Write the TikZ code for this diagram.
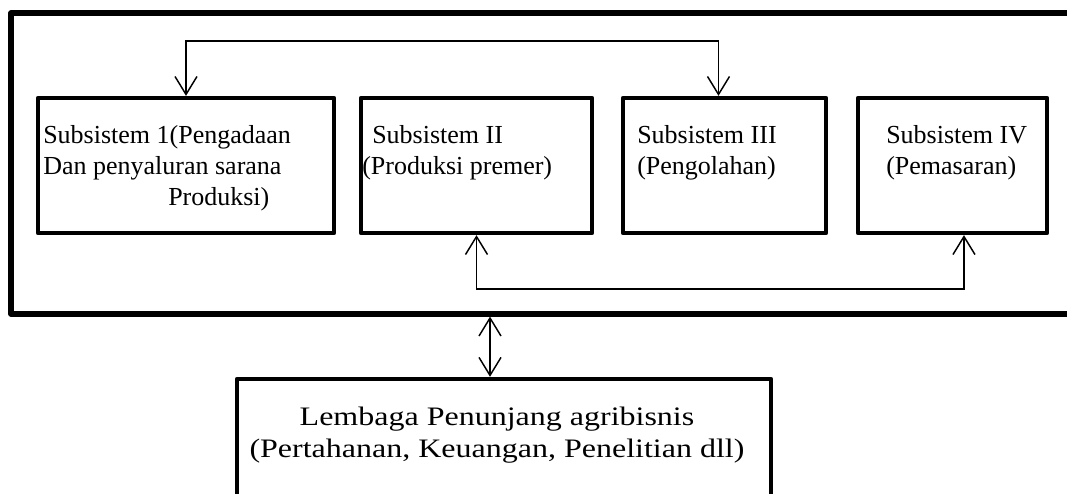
\documentclass[tikz,border=0pt]{standalone}
\usepackage{fontspec}
\setmainfont{Liberation Serif}
\newfontfamily\widefont[FakeStretch=1.2]{Liberation Serif}
\usetikzlibrary{arrows.meta}
\begin{document}
\begin{tikzpicture}[x=0.75pt,y=-0.75pt,
  sbox/.style={draw, line width=3.2pt, line join=round, inner sep=0pt, minimum height=101.25pt},
  outerbox/.style={draw, line width=3.9pt, line join=round, inner sep=0pt},
  lowbox/.style={draw, line width=3.3pt, line join=round, inner sep=0pt},
  link/.style={line width=1.1pt, {Straight Barb[length=13.5pt,width=16.5pt]}-{Straight Barb[length=13.5pt,width=16.5pt]}},
  btext/.style={anchor=base west, inner sep=0pt, align=left, font=\fontsize{19.5pt}{23.25pt}\selectfont},
  ltext/.style={anchor=base, inner sep=0pt, align=center, font=\widefont\fontsize{20pt}{24pt}\selectfont}]
\clip (0,0) rectangle (1067,493);
\fill[white] (0,0) rectangle (1067,493);
% outer frame (its right side lies beyond the picture)
\node[outerbox, minimum width=805.5pt, minimum height=225.75pt] (outer) at (548,163.5) {};
% four subsystem boxes
\node[sbox, minimum width=222pt] (b1) at (186,165.5) {};
\node[sbox, minimum width=173.25pt] (b2) at (476.5,165.5) {};
\node[sbox, minimum width=152.25pt] (b3) at (724.5,165.5) {};
\node[sbox, minimum width=141.75pt] (b4) at (952.5,165.5) {};
% text nodes: the base anchor is the baseline of the last line
\node[btext] (t1) at (43,205) {Subsistem 1(Pengadaan\\Dan penyaluran sarana\\\hspace*{93.75pt}Produksi)};
\node[btext] (t2) at (362,174) {\hspace*{7.5pt}Subsistem II\\(Produksi premer)};
\node[btext] (t3) at (637,174) {Subsistem III\\(Pengolahan)};
\node[btext] (t4) at (886,174) {Subsistem IV\\(Pemasaran)};
% supporting institutions box (bottom runs past the picture)
\node[lowbox, minimum width=400.5pt, minimum height=113.25pt] (low) at (504,454.5) {};
\node[ltext] (lt) at (497,457) {Lembaga Penunjang agribisnis\\(Pertahanan, Keuangan, Penelitian dll)};
% connectors
\draw[link] (b1.north) -- ++(0,-55) -| ([xshift=-4.5pt]b3.north);
\draw[link] (b2.south) -- ++(0,54) -| ([xshift=8.6pt]b4.south);
\coordinate (dtop) at ([xshift=-10.5pt]low.north);
\draw[link] (dtop |- outer.south) -- (dtop);
\end{tikzpicture}
\end{document}
